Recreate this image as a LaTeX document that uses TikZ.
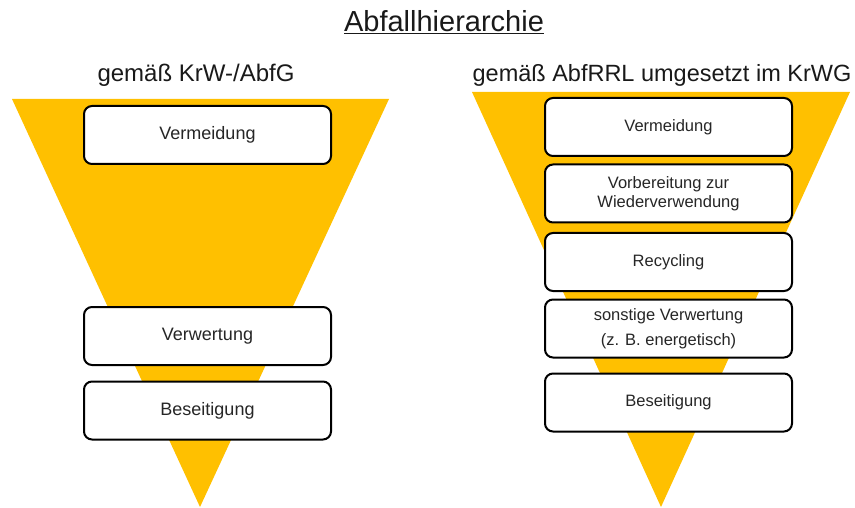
\documentclass[tikz,border=0pt]{standalone}
\usepackage{fontspec}
\setmainfont{Liberation Sans}
\usepackage{tikz}
\definecolor{funnel}{HTML}{FFC000}

\begin{document}
\begin{tikzpicture}[x=1pt, y=-1pt,
        stage/.style={draw, rectangle, rounded corners=8pt, line width=2pt, fill=white,
            minimum width=247pt, minimum height=58pt, align=center, text=black!85},
        bigtext/.style={font=\fontsize{18}{21}\selectfont},
        smalltext/.style={font=\fontsize{16.5}{18.5}\selectfont},
        heading/.style={text=black!90, font=\fontsize{24}{28}\selectfont}]
        \useasboundingbox (0,0) rectangle (855,508);

        % Title
        \node[text=black!90, font=\fontsize{29}{33}\selectfont] (title) at (444, 22) {\underline{Abfallhierarchie}};

        % Funnels
        \fill[funnel] (12, 99) -- (389, 99) -- (200, 507) -- cycle;
        \fill[funnel] (472, 92) -- (850, 92) -- (661, 507) -- cycle;

        % Headings
        \node[heading] (oldlaw) at (196, 75) {gemäß KrW-/AbfG};
        \node[heading, font=\fontsize{23.5}{28}\selectfont] (newlaw) at (662, 75) {gemäß AbfRRL umgesetzt im KrWG};

        % Old hierarchy
        \node[stage, bigtext] (avoidA) at (207.5, 135) {Vermeidung};
        \node[stage, bigtext] (recoverA) at (207.5, 336) {Verwertung};
        \node[stage, bigtext] (disposeA) at (207.5, 410.5) {Beseitigung};

        % New hierarchy
        \node[stage, smalltext] (avoidB) at (668.5, 127) {Vermeidung};
        \node[stage, smalltext] (reuseB) at (668.5, 193.5) {Vorbereitung zur\\Wiederverwendung};
        \node[stage, smalltext] (recycleB) at (668.5, 262) {Recycling};
        \node[stage, smalltext] (recoverB) at (668.5, 328.5) {sonstige Verwertung\\[6pt](z. B. energetisch)};
        \node[stage, smalltext] (disposeB) at (668.5, 402.5) {Beseitigung};
    \end{tikzpicture}
\end{document}
